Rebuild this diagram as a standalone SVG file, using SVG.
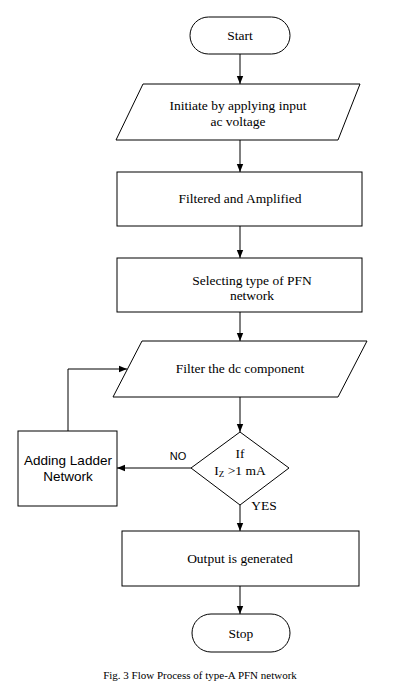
<svg xmlns="http://www.w3.org/2000/svg" width="412" height="688" viewBox="0 0 412 688">
<defs>
<marker id="ah" markerWidth="8" markerHeight="10" refX="10" refY="4" viewBox="0 0 10 8" orient="auto" markerUnits="userSpaceOnUse">
<path d="M0,0 L10,4 L0,8 Z" fill="#000"/>
</marker>
<style>
.s{fill:#fff;stroke:#000;stroke-width:1}
.t{font-family:'Liberation Serif','Times New Roman','DejaVu Serif',serif;font-size:13.5px;fill:#000;text-anchor:middle}
.a{font-family:'Liberation Sans',Arial,sans-serif;font-size:13.5px;fill:#000;text-anchor:middle}
.c{fill:none;stroke:#000;stroke-width:1}
</style>
</defs>
<rect width="412" height="688" fill="#fff"/>
<g id="connectors">
<line class="c" x1="240" y1="54" x2="240" y2="84" marker-end="url(#ah)"/>
<line class="c" x1="240" y1="140" x2="240" y2="172" marker-end="url(#ah)"/>
<line class="c" x1="240" y1="226" x2="240" y2="258" marker-end="url(#ah)"/>
<line class="c" x1="240" y1="312" x2="240" y2="341" marker-end="url(#ah)"/>
<line class="c" x1="240" y1="397" x2="240" y2="432" marker-end="url(#ah)"/>
<line class="c" x1="191" y1="468" x2="117" y2="468" marker-end="url(#ah)"/>
<polyline class="c" points="68,431 68,369 127,369" marker-end="url(#ah)"/>
<line class="c" x1="240" y1="505" x2="240" y2="531" marker-end="url(#ah)"/>
<line class="c" x1="240" y1="586" x2="240" y2="614" marker-end="url(#ah)"/>
<text x="178" y="460" font-family="'Liberation Sans', Arial, sans-serif" font-size="11" text-anchor="middle">NO</text>
<text x="264" y="510" class="t">YES</text>
</g>
<g id="start">
<rect class="s" x="190" y="17" width="100" height="37" rx="18.5"/>
<text class="t" x="240" y="40">Start</text>
</g>
<g id="initiate">
<polygon class="s" points="143,84 360,84 338,140 116,140"/>
<text class="t" x="238" y="110">Initiate by applying input</text>
<text class="t" x="238" y="126">ac voltage</text>
</g>
<g id="filtered">
<rect class="s" x="117" y="172" width="245" height="54"/>
<text class="t" x="240" y="203">Filtered and Amplified</text>
</g>
<g id="selecting">
<rect class="s" x="117" y="258" width="245" height="54"/>
<text class="t" x="252" y="285">Selecting type of PFN</text>
<text class="t" x="252" y="300">network</text>
</g>
<g id="filterdc">
<polygon class="s" points="142,341 367,341 338,397 113,397"/>
<text class="t" x="240" y="373">Filter the dc component</text>
</g>
<g id="decision">
<polygon class="s" points="240,432 289,468 240,505 191,468"/>
<text class="t" x="240" y="458">If</text>
<text class="t" x="240" y="475">I<tspan font-size="9" dy="2">Z</tspan><tspan dy="-2"> &gt;1 mA</tspan></text>
</g>
<g id="ladder">
<rect class="s" x="18" y="431" width="99" height="75"/>
<text class="a" x="68" y="465">Adding Ladder</text>
<text class="a" x="68" y="481">Network</text>
</g>
<g id="output">
<rect class="s" x="122" y="531" width="237" height="55"/>
<text class="t" x="240" y="563">Output is generated</text>
</g>
<g id="stop">
<rect class="s" x="192" y="614" width="98" height="38" rx="19"/>
<text class="t" x="241" y="638">Stop</text>
</g>
<text x="200" y="679" font-family="'Liberation Serif', 'Times New Roman', serif" font-size="11" text-anchor="middle">Fig. 3 Flow Process of type-A PFN network</text>
</svg>
